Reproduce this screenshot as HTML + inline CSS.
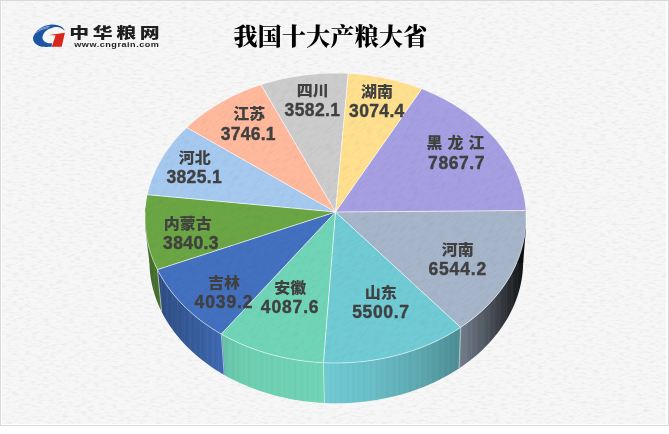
<!DOCTYPE html>
<html lang="zh-CN"><head><meta charset="utf-8"><title>我国十大产粮大省</title>
<style>
html,body{margin:0;padding:0;background:#fff;}
body{width:669px;height:434px;overflow:hidden;position:relative;}
#chart{position:absolute;left:0;top:0;width:669px;height:426px;box-sizing:border-box;border:1px solid #D9D9D9;background:#F7F7F7;}
svg{position:absolute;left:0;top:0;}
.c{font-family:"Liberation Sans","Noto Sans CJK SC",sans-serif;font-size:16px;font-weight:900;word-spacing:0.5px;}
.n{font-family:"Liberation Sans","Noto Sans CJK SC",sans-serif;font-size:17.5px;font-weight:bold;stroke:#404040;stroke-width:0.4px;}
.title{font-family:"Liberation Serif","Noto Serif CJK SC",serif;font-weight:900;font-size:24px;fill:#000;}
.brand{font-family:"Liberation Sans","Noto Sans CJK SC",sans-serif;font-weight:900;font-size:14.5px;fill:#1f1f1f;}
.url{font-family:"Liberation Sans",sans-serif;font-weight:bold;font-size:7px;fill:#1f1f1f;letter-spacing:0.4px;}
</style></head><body>
<div id="chart"></div>
<svg width="669" height="434" viewBox="0 0 669 434">
<defs>
<filter id="paper" x="0" y="0" width="100%" height="100%" color-interpolation-filters="sRGB">
<feTurbulence type="fractalNoise" baseFrequency="0.16 0.5" numOctaves="2" seed="7" result="t"/>
<feColorMatrix in="t" type="matrix" values="0 0 0 0 0  0 0 0 0 0  0 0 0 0 0  1.6 0 0 0 -0.72"/>
</filter>
<filter id="paper2" x="0" y="0" width="100%" height="100%" color-interpolation-filters="sRGB">
<feTurbulence type="fractalNoise" baseFrequency="0.12 0.55" numOctaves="2" seed="3" result="t"/>
<feColorMatrix in="t" type="matrix" values="0 0 0 0 0  0 0 0 0 0  0 0 0 0 0  1.8 0 0 0 -0.8"/>
</filter>
<pattern id="vs" width="23" height="8" patternUnits="userSpaceOnUse">
<rect x="0" y="0" width="1" height="8" fill="#fff" fill-opacity="0.033"/><rect x="2" y="0" width="1" height="8" fill="#000" fill-opacity="0.016"/>
<rect x="5" y="0" width="2" height="8" fill="#fff" fill-opacity="0.023"/><rect x="8" y="0" width="1" height="8" fill="#000" fill-opacity="0.019"/>
<rect x="11" y="0" width="1" height="8" fill="#fff" fill-opacity="0.033"/><rect x="13" y="0" width="1" height="8" fill="#000" fill-opacity="0.013"/>
<rect x="16" y="0" width="1" height="8" fill="#fff" fill-opacity="0.026"/><rect x="18" y="0" width="2" height="8" fill="#000" fill-opacity="0.016"/>
<rect x="21" y="0" width="1" height="8" fill="#fff" fill-opacity="0.019"/>
</pattern>
</defs>
<rect x="2" y="1" width="664" height="423" fill="#000" opacity="0.08" filter="url(#paper)"/>
<path d="M1.5,1 V424.5 H667 V1" fill="none" stroke="#fff" stroke-width="1"/><path d="M666.5,1 V424" fill="none" stroke="#fff" stroke-width="1"/>
<!-- logo -->
<g id="logo">
<defs><clipPath id="lc"><path d="M64.99,31.17 C64.57,30.54 63.68,28.40 62.48,27.40 C61.28,26.41 59.61,25.68 57.78,25.21 C55.95,24.74 53.60,24.48 51.51,24.58 C49.42,24.69 47.20,25.17 45.24,25.84 C43.28,26.50 41.39,27.40 39.76,28.58 C38.12,29.76 36.56,31.39 35.45,32.89 C34.33,34.39 33.29,36.03 33.09,37.59 C32.90,39.16 33.42,40.99 34.27,42.29 C35.12,43.60 36.62,44.67 38.19,45.43 C39.76,46.19 41.43,46.63 43.67,46.84 C45.92,47.05 50.34,46.71 51.67,46.68 L51.98,43.08 C51.38,43.10 49.63,43.50 48.38,43.24 C47.12,42.97 45.44,42.39 44.46,41.51 C43.48,40.64 42.63,39.29 42.50,37.98 C42.37,36.68 42.82,35.05 43.67,33.67 C44.52,32.30 46.03,30.80 47.59,29.76 C49.16,28.71 51.25,27.82 53.08,27.40 C54.91,26.99 57.00,26.99 58.56,27.25 C60.13,27.51 61.41,28.32 62.48,28.97 C63.55,29.62 64.57,30.80 64.99,31.17 Z"/></clipPath></defs>
<path d="M64.99,31.17 C64.57,30.54 63.68,28.40 62.48,27.40 C61.28,26.41 59.61,25.68 57.78,25.21 C55.95,24.74 53.60,24.48 51.51,24.58 C49.42,24.69 47.20,25.17 45.24,25.84 C43.28,26.50 41.39,27.40 39.76,28.58 C38.12,29.76 36.56,31.39 35.45,32.89 C34.33,34.39 33.29,36.03 33.09,37.59 C32.90,39.16 33.42,40.99 34.27,42.29 C35.12,43.60 36.62,44.67 38.19,45.43 C39.76,46.19 41.43,46.63 43.67,46.84 C45.92,47.05 50.34,46.71 51.67,46.68 L51.98,43.08 C51.38,43.10 49.63,43.50 48.38,43.24 C47.12,42.97 45.44,42.39 44.46,41.51 C43.48,40.64 42.63,39.29 42.50,37.98 C42.37,36.68 42.82,35.05 43.67,33.67 C44.52,32.30 46.03,30.80 47.59,29.76 C49.16,28.71 51.25,27.82 53.08,27.40 C54.91,26.99 57.00,26.99 58.56,27.25 C60.13,27.51 61.41,28.32 62.48,28.97 C63.55,29.62 64.57,30.80 64.99,31.17 Z" fill="#1B55A4"/>
<g clip-path="url(#lc)" stroke="#A4C0E5" stroke-width="0.8" fill="none"><path d="M36.2,32.6 C40,29.8 43.5,28.6 48.6,27.6"/><path d="M38.6,29.9 C42,27.9 45,27 49.6,26.1"/></g>
<path d="M49.2,34.9 L64.9,32.8 L61.7,46.7 L51.8,46.7 L55.6,35.6 Z" fill="#D8261C"/>
</g>
<text class="brand" transform="translate(69.2,38.2) scale(1.37,1)" letter-spacing="2.7">中华粮网</text>
<text class="url" transform="translate(74.2,47.2) scale(1.3,1)">www.cngrain.com</text>
<text class="title" x="330.6" y="44.6" text-anchor="middle" letter-spacing="0.25">我国十大产粮大省</text>
<defs><linearGradient id="g0" gradientUnits="userSpaceOnUse" x1="525.6" y1="0" x2="525.8" y2="0"><stop offset="0.000" stop-color="#0F0F15"/><stop offset="0.062" stop-color="#0F0E15"/><stop offset="0.125" stop-color="#0F0E15"/><stop offset="0.188" stop-color="#0F0E15"/><stop offset="0.250" stop-color="#0F0E15"/><stop offset="0.312" stop-color="#0F0E15"/><stop offset="0.375" stop-color="#0F0E15"/><stop offset="0.438" stop-color="#0F0E15"/><stop offset="0.500" stop-color="#0F0E15"/><stop offset="0.562" stop-color="#0F0E15"/><stop offset="0.625" stop-color="#0F0E14"/><stop offset="0.688" stop-color="#0F0E14"/><stop offset="0.750" stop-color="#0F0E14"/><stop offset="0.812" stop-color="#0F0E14"/><stop offset="0.875" stop-color="#0F0E14"/><stop offset="0.938" stop-color="#0F0E14"/><stop offset="1.000" stop-color="#0F0E14"/></linearGradient><linearGradient id="g1" gradientUnits="userSpaceOnUse" x1="460.0" y1="0" x2="526.0" y2="0"><stop offset="0.000" stop-color="#727C8A"/><stop offset="0.062" stop-color="#6E7885"/><stop offset="0.125" stop-color="#68727E"/><stop offset="0.188" stop-color="#626B77"/><stop offset="0.250" stop-color="#5D6570"/><stop offset="0.312" stop-color="#575F69"/><stop offset="0.375" stop-color="#515962"/><stop offset="0.438" stop-color="#4B515A"/><stop offset="0.500" stop-color="#444A52"/><stop offset="0.562" stop-color="#3D424A"/><stop offset="0.625" stop-color="#363B41"/><stop offset="0.688" stop-color="#2F3339"/><stop offset="0.750" stop-color="#282C31"/><stop offset="0.812" stop-color="#212428"/><stop offset="0.875" stop-color="#1A1C1F"/><stop offset="0.938" stop-color="#141518"/><stop offset="1.000" stop-color="#0F1012"/></linearGradient><linearGradient id="g2" gradientUnits="userSpaceOnUse" x1="322.6" y1="0" x2="461.3" y2="0"><stop offset="0.000" stop-color="#6FC9D3"/><stop offset="0.062" stop-color="#6EC7D1"/><stop offset="0.125" stop-color="#6DC5CF"/><stop offset="0.188" stop-color="#6CC3CD"/><stop offset="0.250" stop-color="#6AC1CA"/><stop offset="0.312" stop-color="#69BFC8"/><stop offset="0.375" stop-color="#68BCC6"/><stop offset="0.438" stop-color="#66B8C1"/><stop offset="0.500" stop-color="#63B4BD"/><stop offset="0.562" stop-color="#61B0B9"/><stop offset="0.625" stop-color="#5FACB4"/><stop offset="0.688" stop-color="#5DA8B0"/><stop offset="0.750" stop-color="#5AA3AB"/><stop offset="0.812" stop-color="#569DA4"/><stop offset="0.875" stop-color="#53979E"/><stop offset="0.938" stop-color="#509198"/><stop offset="1.000" stop-color="#4C8B91"/></linearGradient><linearGradient id="g3" gradientUnits="userSpaceOnUse" x1="220.6" y1="0" x2="324.3" y2="0"><stop offset="0.000" stop-color="#66C2A6"/><stop offset="0.062" stop-color="#68C5A9"/><stop offset="0.125" stop-color="#69C8AB"/><stop offset="0.188" stop-color="#6BCBAD"/><stop offset="0.250" stop-color="#6CCDAF"/><stop offset="0.312" stop-color="#6DCFB1"/><stop offset="0.375" stop-color="#6DCFB1"/><stop offset="0.438" stop-color="#6DD0B1"/><stop offset="0.500" stop-color="#6DD0B2"/><stop offset="0.562" stop-color="#6ED0B2"/><stop offset="0.625" stop-color="#6ED1B2"/><stop offset="0.688" stop-color="#6ED1B3"/><stop offset="0.750" stop-color="#6ED1B3"/><stop offset="0.812" stop-color="#6ED2B3"/><stop offset="0.875" stop-color="#6ED2B4"/><stop offset="0.938" stop-color="#6FD3B4"/><stop offset="1.000" stop-color="#6FD3B4"/></linearGradient><linearGradient id="g4" gradientUnits="userSpaceOnUse" x1="157.1" y1="0" x2="222.0" y2="0"><stop offset="0.000" stop-color="#2D4C81"/><stop offset="0.062" stop-color="#2E4E84"/><stop offset="0.125" stop-color="#2F5087"/><stop offset="0.188" stop-color="#30518A"/><stop offset="0.250" stop-color="#31538D"/><stop offset="0.312" stop-color="#325590"/><stop offset="0.375" stop-color="#335693"/><stop offset="0.438" stop-color="#345896"/><stop offset="0.500" stop-color="#355A99"/><stop offset="0.562" stop-color="#365C9C"/><stop offset="0.625" stop-color="#375D9E"/><stop offset="0.688" stop-color="#385FA1"/><stop offset="0.750" stop-color="#3961A4"/><stop offset="0.812" stop-color="#3A62A7"/><stop offset="0.875" stop-color="#3B64AA"/><stop offset="0.938" stop-color="#3C66AD"/><stop offset="1.000" stop-color="#3D67B0"/></linearGradient><linearGradient id="g5" gradientUnits="userSpaceOnUse" x1="145.0" y1="0" x2="157.7" y2="0"><stop offset="0.000" stop-color="#42672B"/><stop offset="0.062" stop-color="#43672B"/><stop offset="0.125" stop-color="#43682B"/><stop offset="0.188" stop-color="#43692B"/><stop offset="0.250" stop-color="#44692C"/><stop offset="0.312" stop-color="#446A2C"/><stop offset="0.375" stop-color="#456A2C"/><stop offset="0.438" stop-color="#456B2C"/><stop offset="0.500" stop-color="#456C2D"/><stop offset="0.562" stop-color="#466C2D"/><stop offset="0.625" stop-color="#466D2D"/><stop offset="0.688" stop-color="#466D2D"/><stop offset="0.750" stop-color="#476E2E"/><stop offset="0.812" stop-color="#476E2E"/><stop offset="0.875" stop-color="#486F2E"/><stop offset="0.938" stop-color="#48702E"/><stop offset="1.000" stop-color="#48702F"/></linearGradient></defs><g><path d="M525.63,209.48 L525.63,209.52 L525.63,209.57 L525.64,209.61 L525.64,209.65 L525.64,209.69 L525.65,209.74 L525.65,209.78 L525.65,209.82 L525.66,209.87 L525.66,209.91 L525.66,209.95 L525.67,209.99 L525.67,210.04 L525.67,210.08 L525.68,210.12 L525.68,210.17 L525.68,210.21 L525.69,210.25 L525.69,210.29 L525.69,210.34 L525.70,210.38 L525.70,210.42 L525.70,210.46 L525.70,210.51 L525.71,210.55 L525.71,210.59 L525.71,210.64 L525.72,210.68 L525.72,210.72 L525.72,210.76 L525.73,210.81 L525.73,210.85 L525.73,210.89 L525.73,210.94 L525.74,210.98 L525.74,211.02 L525.74,211.06 L525.75,211.11 L525.75,211.15 L525.75,211.19 L522.94,254.38 L522.93,254.33 L522.93,254.29 L522.93,254.25 L522.93,254.21 L522.92,254.17 L522.92,254.12 L522.92,254.08 L522.91,254.04 L522.91,254.00 L522.91,253.96 L522.91,253.91 L522.90,253.87 L522.90,253.83 L522.90,253.79 L522.89,253.75 L522.89,253.70 L522.89,253.66 L522.89,253.62 L522.88,253.58 L522.88,253.54 L522.88,253.49 L522.87,253.45 L522.87,253.41 L522.87,253.37 L522.86,253.33 L522.86,253.28 L522.86,253.24 L522.85,253.20 L522.85,253.16 L522.85,253.12 L522.84,253.07 L522.84,253.03 L522.84,252.99 L522.84,252.95 L522.83,252.91 L522.83,252.86 L522.83,252.82 L522.82,252.78 L522.82,252.74 L522.82,252.70 Z" fill="url(#g0)"/><path d="M525.63,209.48 L525.63,209.52 L525.63,209.57 L525.64,209.61 L525.64,209.65 L525.64,209.69 L525.65,209.74 L525.65,209.78 L525.65,209.82 L525.66,209.87 L525.66,209.91 L525.66,209.95 L525.67,209.99 L525.67,210.04 L525.67,210.08 L525.68,210.12 L525.68,210.17 L525.68,210.21 L525.69,210.25 L525.69,210.29 L525.69,210.34 L525.70,210.38 L525.70,210.42 L525.70,210.46 L525.70,210.51 L525.71,210.55 L525.71,210.59 L525.71,210.64 L525.72,210.68 L525.72,210.72 L525.72,210.76 L525.73,210.81 L525.73,210.85 L525.73,210.89 L525.73,210.94 L525.74,210.98 L525.74,211.02 L525.74,211.06 L525.75,211.11 L525.75,211.15 L525.75,211.19 L522.94,254.38 L522.93,254.33 L522.93,254.29 L522.93,254.25 L522.93,254.21 L522.92,254.17 L522.92,254.12 L522.92,254.08 L522.91,254.04 L522.91,254.00 L522.91,253.96 L522.91,253.91 L522.90,253.87 L522.90,253.83 L522.90,253.79 L522.89,253.75 L522.89,253.70 L522.89,253.66 L522.89,253.62 L522.88,253.58 L522.88,253.54 L522.88,253.49 L522.87,253.45 L522.87,253.41 L522.87,253.37 L522.86,253.33 L522.86,253.28 L522.86,253.24 L522.85,253.20 L522.85,253.16 L522.85,253.12 L522.84,253.07 L522.84,253.03 L522.84,252.99 L522.84,252.95 L522.83,252.91 L522.83,252.86 L522.83,252.82 L522.82,252.78 L522.82,252.74 L522.82,252.70 Z" fill="url(#vs)"/><path d="M525.66,209.93 L525.89,213.76 L525.98,217.59 L525.93,221.43 L525.75,225.27 L525.44,229.11 L524.99,232.95 L524.41,236.78 L523.69,240.60 L522.84,244.41 L521.85,248.21 L520.73,251.99 L519.48,255.75 L518.09,259.48 L516.56,263.19 L514.91,266.88 L513.12,270.53 L511.21,274.14 L509.16,277.72 L506.98,281.26 L504.68,284.76 L502.25,288.21 L499.70,291.62 L497.02,294.97 L494.22,298.28 L491.30,301.52 L488.27,304.71 L485.12,307.83 L481.85,310.90 L478.47,313.89 L474.99,316.82 L471.40,319.68 L467.70,322.46 L463.90,325.17 L460.00,327.80 L458.44,368.77 L462.26,366.19 L465.99,363.53 L469.61,360.80 L473.14,358.00 L476.56,355.13 L479.87,352.19 L483.07,349.18 L486.17,346.11 L489.14,342.99 L492.01,339.80 L494.75,336.57 L497.38,333.27 L499.88,329.93 L502.26,326.55 L504.52,323.11 L506.66,319.64 L508.67,316.13 L510.55,312.58 L512.30,309.00 L513.92,305.39 L515.42,301.75 L516.78,298.08 L518.01,294.40 L519.11,290.69 L520.08,286.97 L520.92,283.23 L521.62,279.48 L522.19,275.72 L522.63,271.96 L522.94,268.19 L523.11,264.42 L523.16,260.65 L523.07,256.89 L522.85,253.14 Z" fill="url(#g1)"/><path d="M525.66,209.93 L525.89,213.76 L525.98,217.59 L525.93,221.43 L525.75,225.27 L525.44,229.11 L524.99,232.95 L524.41,236.78 L523.69,240.60 L522.84,244.41 L521.85,248.21 L520.73,251.99 L519.48,255.75 L518.09,259.48 L516.56,263.19 L514.91,266.88 L513.12,270.53 L511.21,274.14 L509.16,277.72 L506.98,281.26 L504.68,284.76 L502.25,288.21 L499.70,291.62 L497.02,294.97 L494.22,298.28 L491.30,301.52 L488.27,304.71 L485.12,307.83 L481.85,310.90 L478.47,313.89 L474.99,316.82 L471.40,319.68 L467.70,322.46 L463.90,325.17 L460.00,327.80 L458.44,368.77 L462.26,366.19 L465.99,363.53 L469.61,360.80 L473.14,358.00 L476.56,355.13 L479.87,352.19 L483.07,349.18 L486.17,346.11 L489.14,342.99 L492.01,339.80 L494.75,336.57 L497.38,333.27 L499.88,329.93 L502.26,326.55 L504.52,323.11 L506.66,319.64 L508.67,316.13 L510.55,312.58 L512.30,309.00 L513.92,305.39 L515.42,301.75 L516.78,298.08 L518.01,294.40 L519.11,290.69 L520.08,286.97 L520.92,283.23 L521.62,279.48 L522.19,275.72 L522.63,271.96 L522.94,268.19 L523.11,264.42 L523.16,260.65 L523.07,256.89 L522.85,253.14 Z" fill="url(#vs)"/><path d="M461.30,326.94 L457.24,329.58 L453.09,332.12 L448.84,334.58 L444.50,336.95 L440.08,339.23 L435.56,341.42 L430.97,343.51 L426.29,345.50 L421.55,347.39 L416.73,349.18 L411.84,350.87 L406.89,352.45 L401.89,353.92 L396.82,355.29 L391.71,356.55 L386.55,357.70 L381.35,358.74 L376.11,359.67 L370.83,360.49 L365.53,361.19 L360.20,361.78 L354.85,362.25 L349.49,362.61 L344.11,362.85 L338.73,362.98 L333.34,362.99 L327.96,362.89 L322.58,362.67 L323.63,402.97 L328.90,403.19 L334.18,403.29 L339.47,403.28 L344.75,403.15 L350.02,402.92 L355.29,402.56 L360.53,402.10 L365.76,401.52 L370.96,400.83 L376.14,400.03 L381.28,399.12 L386.38,398.10 L391.44,396.98 L396.46,395.74 L401.42,394.40 L406.34,392.95 L411.19,391.40 L415.98,389.74 L420.71,387.98 L425.37,386.13 L429.95,384.18 L434.46,382.13 L438.89,379.98 L443.23,377.75 L447.49,375.42 L451.66,373.01 L455.73,370.51 L459.71,367.93 Z" fill="url(#g2)"/><path d="M461.30,326.94 L457.24,329.58 L453.09,332.12 L448.84,334.58 L444.50,336.95 L440.08,339.23 L435.56,341.42 L430.97,343.51 L426.29,345.50 L421.55,347.39 L416.73,349.18 L411.84,350.87 L406.89,352.45 L401.89,353.92 L396.82,355.29 L391.71,356.55 L386.55,357.70 L381.35,358.74 L376.11,359.67 L370.83,360.49 L365.53,361.19 L360.20,361.78 L354.85,362.25 L349.49,362.61 L344.11,362.85 L338.73,362.98 L333.34,362.99 L327.96,362.89 L322.58,362.67 L323.63,402.97 L328.90,403.19 L334.18,403.29 L339.47,403.28 L344.75,403.15 L350.02,402.92 L355.29,402.56 L360.53,402.10 L365.76,401.52 L370.96,400.83 L376.14,400.03 L381.28,399.12 L386.38,398.10 L391.44,396.98 L396.46,395.74 L401.42,394.40 L406.34,392.95 L411.19,391.40 L415.98,389.74 L420.71,387.98 L425.37,386.13 L429.95,384.18 L434.46,382.13 L438.89,379.98 L443.23,377.75 L447.49,375.42 L451.66,373.01 L455.73,370.51 L459.71,367.93 Z" fill="url(#vs)"/><path d="M324.31,362.75 L318.97,362.45 L313.64,362.04 L308.33,361.52 L303.04,360.88 L297.78,360.13 L292.55,359.27 L287.35,358.30 L282.19,357.22 L277.08,356.02 L272.01,354.72 L267.00,353.32 L262.04,351.80 L257.15,350.19 L252.31,348.47 L247.55,346.65 L242.85,344.72 L238.23,342.71 L233.69,340.59 L229.24,338.38 L224.86,336.08 L220.58,333.69 L223.56,374.54 L227.77,376.89 L232.05,379.15 L236.43,381.32 L240.88,383.39 L245.41,385.37 L250.02,387.25 L254.69,389.04 L259.44,390.73 L264.24,392.32 L269.10,393.80 L274.02,395.18 L278.99,396.46 L284.00,397.62 L289.06,398.69 L294.16,399.64 L299.29,400.49 L304.46,401.22 L309.64,401.85 L314.86,402.36 L320.08,402.76 L325.33,403.05 Z" fill="url(#g3)"/><path d="M324.31,362.75 L318.97,362.45 L313.64,362.04 L308.33,361.52 L303.04,360.88 L297.78,360.13 L292.55,359.27 L287.35,358.30 L282.19,357.22 L277.08,356.02 L272.01,354.72 L267.00,353.32 L262.04,351.80 L257.15,350.19 L252.31,348.47 L247.55,346.65 L242.85,344.72 L238.23,342.71 L233.69,340.59 L229.24,338.38 L224.86,336.08 L220.58,333.69 L223.56,374.54 L227.77,376.89 L232.05,379.15 L236.43,381.32 L240.88,383.39 L245.41,385.37 L250.02,387.25 L254.69,389.04 L259.44,390.73 L264.24,392.32 L269.10,393.80 L274.02,395.18 L278.99,396.46 L284.00,397.62 L289.06,398.69 L294.16,399.64 L299.29,400.49 L304.46,401.22 L309.64,401.85 L314.86,402.36 L320.08,402.76 L325.33,403.05 Z" fill="url(#vs)"/><path d="M221.96,334.47 L217.79,332.05 L213.71,329.54 L209.72,326.95 L205.84,324.28 L202.05,321.54 L198.37,318.71 L194.79,315.82 L191.33,312.85 L187.97,309.81 L184.73,306.71 L181.60,303.54 L178.60,300.32 L175.71,297.03 L172.94,293.69 L170.30,290.30 L167.78,286.86 L165.39,283.37 L163.12,279.84 L160.99,276.26 L158.98,272.65 L157.11,268.99 L161.30,311.08 L163.14,314.66 L165.10,318.21 L167.20,321.71 L169.42,325.18 L171.76,328.61 L174.24,331.98 L176.83,335.31 L179.54,338.59 L182.38,341.81 L185.33,344.97 L188.39,348.08 L191.57,351.12 L194.87,354.10 L198.27,357.01 L201.77,359.85 L205.39,362.62 L209.10,365.32 L212.91,367.94 L216.82,370.48 L220.82,372.94 L224.92,375.31 Z" fill="url(#g4)"/><path d="M221.96,334.47 L217.79,332.05 L213.71,329.54 L209.72,326.95 L205.84,324.28 L202.05,321.54 L198.37,318.71 L194.79,315.82 L191.33,312.85 L187.97,309.81 L184.73,306.71 L181.60,303.54 L178.60,300.32 L175.71,297.03 L172.94,293.69 L170.30,290.30 L167.78,286.86 L165.39,283.37 L163.12,279.84 L160.99,276.26 L158.98,272.65 L157.11,268.99 L161.30,311.08 L163.14,314.66 L165.10,318.21 L167.20,321.71 L169.42,325.18 L171.76,328.61 L174.24,331.98 L176.83,335.31 L179.54,338.59 L182.38,341.81 L185.33,344.97 L188.39,348.08 L191.57,351.12 L194.87,354.10 L198.27,357.01 L201.77,359.85 L205.39,362.62 L209.10,365.32 L212.91,367.94 L216.82,370.48 L220.82,372.94 L224.92,375.31 Z" fill="url(#vs)"/><path d="M157.71,270.20 L156.14,266.99 L154.68,263.76 L153.32,260.50 L152.06,257.23 L150.90,253.94 L149.85,250.63 L148.90,247.30 L148.05,243.97 L147.31,240.62 L146.67,237.27 L146.14,233.90 L145.71,230.53 L145.38,227.16 L145.16,223.79 L145.04,220.42 L145.03,217.05 L145.12,213.68 L145.31,210.32 L145.60,206.97 L150.01,250.23 L149.72,253.52 L149.53,256.82 L149.45,260.12 L149.46,263.42 L149.58,266.73 L149.80,270.04 L150.12,273.35 L150.54,276.65 L151.06,279.95 L151.69,283.25 L152.41,286.53 L153.24,289.80 L154.18,293.06 L155.21,296.31 L156.34,299.54 L157.58,302.75 L158.92,305.94 L160.35,309.11 L161.89,312.26 Z" fill="url(#g5)"/><path d="M157.71,270.20 L156.14,266.99 L154.68,263.76 L153.32,260.50 L152.06,257.23 L150.90,253.94 L149.85,250.63 L148.90,247.30 L148.05,243.97 L147.31,240.62 L146.67,237.27 L146.14,233.90 L145.71,230.53 L145.38,227.16 L145.16,223.79 L145.04,220.42 L145.03,217.05 L145.12,213.68 L145.31,210.32 L145.60,206.97 L150.01,250.23 L149.72,253.52 L149.53,256.82 L149.45,260.12 L149.46,263.42 L149.58,266.73 L149.80,270.04 L150.12,273.35 L150.54,276.65 L151.06,279.95 L151.69,283.25 L152.41,286.53 L153.24,289.80 L154.18,293.06 L155.21,296.31 L156.34,299.54 L157.58,302.75 L158.92,305.94 L160.35,309.11 L161.89,312.26 Z" fill="url(#vs)"/><path d="M145.2,228 L149.5,263 L165,263 L165,228 Z" fill="#476E2E"/><path d="M526.0,228 L523.1,263 L505,263 L505,228 Z" fill="#0D0E10"/></g><g fill="none" stroke="#fff" stroke-opacity="0.6" stroke-width="0.9"><path d="M460.65,327.37 L459.07,368.35" /><path d="M323.45,362.71 L324.48,403.01" /><path d="M221.27,334.08 L224.24,374.93" /><path d="M157.41,269.60 L161.59,311.67" /></g><g><path d="M335.50,212.00 L421.56,89.12 L425.91,90.85 L430.21,92.66 L434.45,94.56 L438.62,96.55 L442.73,98.62 L446.77,100.76 L450.73,102.99 L454.62,105.30 L458.44,107.69 L462.17,110.15 L465.82,112.69 L469.39,115.29 L472.87,117.98 L476.26,120.73 L479.56,123.55 L482.76,126.44 L485.86,129.39 L488.86,132.40 L491.77,135.48 L494.56,138.62 L497.25,141.81 L499.84,145.06 L502.31,148.37 L504.67,151.72 L506.91,155.13 L509.04,158.58 L511.05,162.08 L512.94,165.62 L514.71,169.20 L516.35,172.82 L517.87,176.47 L519.26,180.16 L520.53,183.88 L521.67,187.63 L522.67,191.40 L523.55,195.20 L524.29,199.01 L524.90,202.85 L525.37,206.70 L525.71,210.56 Z" fill="#A69FE2"/><path d="M335.50,212.00 L525.71,210.56 L525.91,214.35 L525.98,218.15 L525.92,221.95 L525.72,225.76 L525.40,229.56 L524.94,233.36 L524.35,237.15 L523.62,240.94 L522.77,244.71 L521.78,248.47 L520.66,252.21 L519.41,255.93 L518.03,259.63 L516.52,263.30 L514.88,266.95 L513.10,270.56 L511.21,274.14 L509.18,277.69 L507.03,281.19 L504.75,284.66 L502.35,288.08 L499.82,291.46 L497.18,294.78 L494.42,298.05 L491.53,301.27 L488.54,304.43 L485.43,307.53 L482.20,310.57 L478.87,313.55 L475.43,316.46 L471.89,319.29 L468.24,322.06 L464.50,324.75 L460.65,327.37 Z" fill="#A6B5C9"/><path d="M335.50,212.00 L460.65,327.37 L456.63,329.96 L452.51,332.47 L448.30,334.89 L444.00,337.22 L439.61,339.46 L435.14,341.61 L430.59,343.67 L425.97,345.63 L421.27,347.49 L416.50,349.26 L411.67,350.92 L406.78,352.48 L401.83,353.94 L396.82,355.29 L391.77,356.54 L386.67,357.68 L381.53,358.71 L376.35,359.63 L371.14,360.44 L365.90,361.14 L360.63,361.73 L355.35,362.21 L350.05,362.58 L344.73,362.83 L339.41,362.97 L334.09,363.00 L328.76,362.91 L323.45,362.71 Z" fill="#70CBD5"/><path d="M335.50,212.00 L323.45,362.71 L318.19,362.40 L312.94,361.98 L307.72,361.45 L302.51,360.81 L297.33,360.06 L292.18,359.21 L287.07,358.24 L281.99,357.17 L276.96,355.99 L271.98,354.71 L267.04,353.33 L262.16,351.84 L257.33,350.25 L252.57,348.56 L247.88,346.77 L243.25,344.89 L238.69,342.91 L234.21,340.84 L229.82,338.68 L225.50,336.42 L221.27,334.08 Z" fill="#70D5B6"/><path d="M335.50,212.00 L221.27,334.08 L217.18,331.68 L213.17,329.20 L209.26,326.65 L205.45,324.01 L201.73,321.30 L198.11,318.51 L194.60,315.66 L191.19,312.73 L187.89,309.74 L184.70,306.69 L181.63,303.57 L178.66,300.39 L175.82,297.16 L173.09,293.88 L170.48,290.54 L167.99,287.16 L165.62,283.73 L163.38,280.25 L161.26,276.74 L159.27,273.18 L157.41,269.60 Z" fill="#4371C0"/><path d="M335.50,212.00 L157.41,269.60 L155.59,265.79 L153.91,261.95 L152.38,258.08 L150.99,254.19 L149.74,250.27 L148.64,246.33 L147.69,242.38 L146.88,238.41 L146.22,234.43 L145.70,230.44 L145.33,226.44 L145.10,222.45 L145.02,218.46 L145.09,214.47 L145.30,210.49 L145.65,206.52 L146.14,202.56 L146.78,198.62 L147.56,194.70 Z" fill="#6BA645"/><path d="M335.50,212.00 L147.56,194.70 L148.47,190.82 L149.53,186.96 L150.71,183.13 L152.04,179.33 L153.49,175.56 L155.08,171.83 L156.80,168.14 L158.65,164.49 L160.62,160.88 L162.72,157.31 L164.95,153.80 L167.29,150.33 L169.75,146.92 L172.34,143.56 L175.03,140.26 L177.84,137.02 L180.76,133.84 L183.79,130.73 L186.92,127.68 Z" fill="#A6C9F0"/><path d="M335.50,212.00 L186.92,127.68 L190.09,124.76 L193.35,121.90 L196.71,119.11 L200.16,116.40 L203.70,113.75 L207.32,111.18 L211.03,108.68 L214.82,106.26 L218.69,103.91 L222.64,101.65 L226.66,99.46 L230.75,97.35 L234.91,95.33 L239.13,93.39 L243.41,91.54 L247.76,89.77 L252.16,88.09 L256.61,86.50 L261.11,84.99 Z" fill="#FFB99C"/><path d="M335.50,212.00 L261.11,84.99 L265.71,83.57 L270.35,82.23 L275.03,80.99 L279.75,79.84 L284.51,78.78 L289.30,77.82 L294.12,76.96 L298.97,76.19 L303.84,75.51 L308.73,74.94 L313.64,74.46 L318.56,74.07 L323.49,73.79 L328.43,73.60 L333.38,73.51 L338.33,73.52 L343.27,73.62 L348.21,73.82 Z" fill="#CCCCCC"/><path d="M335.50,212.00 L348.21,73.82 L352.97,74.11 L357.73,74.49 L362.46,74.96 L367.19,75.52 L371.89,76.17 L376.57,76.91 L381.23,77.73 L385.86,78.65 L390.45,79.66 L395.02,80.75 L399.55,81.93 L404.04,83.20 L408.49,84.55 L412.89,85.99 L417.25,87.51 L421.56,89.12 Z" fill="#FFE08F"/></g><g fill="none" stroke="#fff" stroke-opacity="0.75" stroke-width="0.9"><path d="M335.50,212.00 L525.71,210.56" /><path d="M335.50,212.00 L460.65,327.37" /><path d="M335.50,212.00 L323.45,362.71" /><path d="M335.50,212.00 L221.27,334.08" /><path d="M335.50,212.00 L157.41,269.60" /><path d="M335.50,212.00 L147.56,194.70" /><path d="M335.50,212.00 L186.92,127.68" /><path d="M335.50,212.00 L261.11,84.99" /><path d="M335.50,212.00 L348.21,73.82" /><path d="M335.50,212.00 L421.56,89.12" /></g><clipPath id="topclip"><path d="M335.50,73.50 L345.05,73.68 L354.57,74.23 L364.05,75.14 L373.46,76.40 L382.78,78.03 L391.99,80.01 L401.05,82.34 L409.96,85.02 L418.69,88.04 L427.22,91.39 L435.52,95.06 L443.58,99.06 L451.37,103.36 L458.88,107.97 L466.08,112.86 L472.95,118.04 L479.48,123.48 L485.65,129.18 L491.43,135.12 L496.82,141.29 L501.80,147.67 L506.35,154.25 L510.45,161.01 L514.10,167.94 L517.28,175.02 L519.99,182.23 L522.20,189.55 L523.91,196.97 L525.11,204.46 L525.80,212.00 L525.97,219.58 L525.62,227.17 L524.74,234.76 L523.33,242.31 L521.39,249.82 L518.93,257.25 L515.95,264.59 L512.46,271.82 L508.45,278.90 L503.94,285.83 L498.94,292.58 L493.47,299.13 L487.52,305.46 L481.13,311.55 L474.30,317.38 L467.06,322.93 L459.42,328.18 L451.40,333.12 L443.04,337.72 L434.35,341.98 L425.35,345.88 L416.08,349.41 L406.56,352.55 L396.82,355.29 L386.90,357.63 L376.81,359.55 L366.60,361.06 L356.28,362.14 L345.91,362.78 L335.50,363.00 L325.09,362.78 L314.72,362.14 L304.40,361.06 L294.19,359.55 L284.10,357.63 L274.18,355.29 L264.44,352.55 L254.92,349.41 L245.65,345.88 L236.65,341.98 L227.96,337.72 L219.60,333.12 L211.58,328.18 L203.94,322.93 L196.70,317.38 L189.87,311.55 L183.48,305.46 L177.53,299.13 L172.06,292.58 L167.06,285.83 L162.55,278.90 L158.54,271.82 L155.05,264.59 L152.07,257.25 L149.61,249.82 L147.67,242.31 L146.26,234.76 L145.38,227.17 L145.03,219.58 L145.20,212.00 L145.89,204.46 L147.09,196.97 L148.80,189.55 L151.01,182.23 L153.72,175.02 L156.90,167.94 L160.55,161.01 L164.65,154.25 L169.20,147.67 L174.18,141.29 L179.57,135.12 L185.35,129.18 L191.52,123.48 L198.05,118.04 L204.92,112.86 L212.12,107.97 L219.63,103.36 L227.42,99.06 L235.48,95.06 L243.78,91.39 L252.31,88.04 L261.04,85.02 L269.95,82.34 L279.01,80.01 L288.22,78.03 L297.54,76.40 L306.95,75.14 L316.43,74.23 L325.95,73.68 Z"/></clipPath><g clip-path="url(#topclip)"><rect x="60" y="-60" width="560" height="560" transform="rotate(-38 335.5 212)" fill="#000" opacity="0.055" filter="url(#paper2)"/></g><path d="M525.80,212.00 L525.95,215.79 L525.97,219.58 L525.86,223.37 L525.62,227.17 L525.24,230.97 L524.74,234.76 L524.10,238.54 L523.33,242.31 L522.43,246.07 L521.39,249.82 L520.23,253.54 L518.93,257.25 L517.51,260.93 L515.95,264.59 L514.27,268.22 L512.46,271.82 L510.52,275.38 L508.45,278.90 L506.26,282.39 L503.94,285.83 L501.50,289.23 L498.94,292.58 L496.26,295.89 L493.47,299.13 L490.55,302.33 L487.52,305.46 L484.38,308.54 L481.13,311.55 L477.77,314.50 L474.30,317.38 L470.73,320.19 L467.06,322.93 L463.29,325.59 L459.42,328.18 L455.46,330.69 L451.40,333.12 L447.26,335.46 L443.04,337.72 L438.73,339.90 L434.35,341.98 L429.88,343.98 L425.35,345.88 L420.75,347.69 L416.08,349.41 L411.35,351.03 L406.56,352.55 L401.72,353.97 L396.82,355.29 L391.88,356.51 L386.90,357.63 L381.87,358.65 L376.81,359.55 L371.72,360.36 L366.60,361.06 L361.45,361.65 L356.28,362.14 L351.10,362.51 L345.91,362.78 L340.71,362.95 L335.50,363.00 L330.29,362.95 L325.09,362.78 L319.90,362.51 L314.72,362.14 L309.55,361.65 L304.40,361.06 L299.28,360.36 L294.19,359.55 L289.13,358.65 L284.10,357.63 L279.12,356.51 L274.18,355.29 L269.28,353.97 L264.44,352.55 L259.65,351.03 L254.92,349.41 L250.25,347.69 L245.65,345.88 L241.12,343.98 L236.65,341.98 L232.27,339.90 L227.96,337.72 L223.74,335.46 L219.60,333.12 L215.54,330.69 L211.58,328.18 L207.71,325.59 L203.94,322.93 L200.27,320.19 L196.70,317.38 L193.23,314.50 L189.87,311.55 L186.62,308.54 L183.48,305.46 L180.45,302.33 L177.53,299.13 L174.74,295.89 L172.06,292.58 L169.50,289.23 L167.06,285.83 L164.74,282.39 L162.55,278.90 L160.48,275.38 L158.54,271.82 L156.73,268.22 L155.05,264.59 L153.49,260.93 L152.07,257.25 L150.77,253.54 L149.61,249.82 L148.57,246.07 L147.67,242.31 L146.90,238.54 L146.26,234.76 L145.76,230.97 L145.38,227.17 L145.14,223.37 L145.03,219.58 L145.05,215.79 L145.20,212.00" fill="none" stroke="#fff" stroke-opacity="0.6" stroke-width="0.9"/><g text-anchor="middle" fill="#404040"><text transform="translate(455.45,148.25) scale(1,0.93)" class="c">黑 龙 江</text><text x="456.52" y="168.75" class="n" letter-spacing="0.55">7867.7</text><text transform="translate(457.80,254.55) scale(1,0.93)" class="c">河南</text><text x="457.73" y="275.05" class="n" letter-spacing="0.85">6544.2</text><text transform="translate(380.70,297.85) scale(1,0.93)" class="c">山东</text><text x="380.93" y="318.35" class="n" letter-spacing="0.65">5500.7</text><text transform="translate(290.25,292.55) scale(1,0.93)" class="c">安徽</text><text x="290.12" y="313.05" class="n" letter-spacing="0.85">4087.6</text><text transform="translate(224.10,287.55) scale(1,0.93)" class="c">吉林</text><text x="224.00" y="308.05" class="n" letter-spacing="0.90">4039.2</text><text transform="translate(187.85,228.65) scale(1,0.93)" class="c">内蒙古</text><text x="191.05" y="249.15" class="n" letter-spacing="0.40">3840.3</text><text transform="translate(194.80,162.50) scale(1,0.93)" class="c">河北</text><text x="194.23" y="183.00" class="n" letter-spacing="0.35">3825.1</text><text transform="translate(249.25,119.30) scale(1,0.93)" class="c">江苏</text><text x="248.32" y="139.80" class="n" letter-spacing="0.25">3746.1</text><text transform="translate(312.70,95.85) scale(1,0.93)" class="c">四川</text><text x="312.55" y="116.35" class="n" letter-spacing="0.40">3582.1</text><text transform="translate(376.95,96.50) scale(1,0.93)" class="c">湖南</text><text x="376.88" y="117.00" class="n" letter-spacing="0.35">3074.4</text></g>
</svg>
</body></html>
